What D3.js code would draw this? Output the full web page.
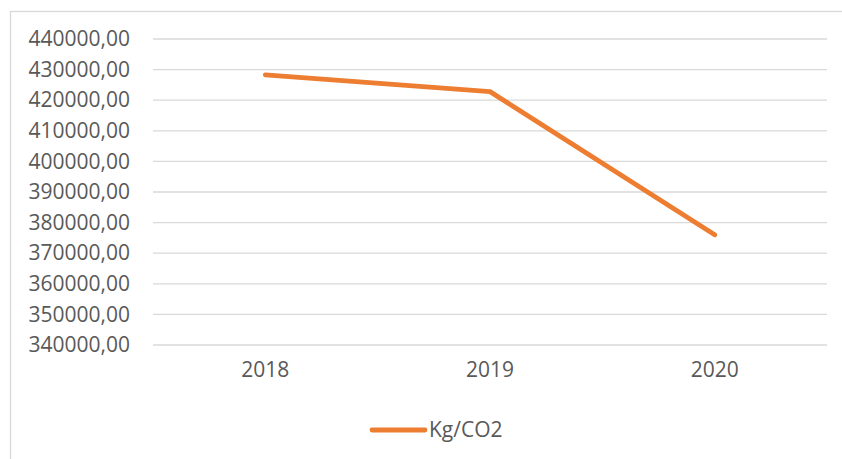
<!DOCTYPE html>
<html lang="en">
<head>
    <meta charset="UTF-8">
    <title>Kg/CO2</title>
    <script src="https://d3js.org/d3.v7.min.js"></script>
    <style>
        body { margin: 0; background: #fff; }
        .tick text { font-family: "Open Sans", sans-serif; font-size: 21px; fill: #595959; }
        .legend-label { font-family: "Open Sans", sans-serif; font-size: 21px; fill: #595959; }
    </style>
</head>
<body>
    <svg width="842" height="459"></svg>
    <script>
        const years = ["2018", "2019", "2020"];
        const kgCO2 = [428300, 422800, 376000];
        const yTicks = [340000, 350000, 360000, 370000, 380000, 390000, 400000, 410000, 420000, 430000, 440000];

        const margin = { top: 39, right: 15, bottom: 114, left: 153 };
        const width = 842 - margin.left - margin.right;
        const height = 459 - margin.top - margin.bottom;

        const root = d3.select("svg");

        // chart frame
        root.append("rect")
            .attr("x", 10.5)
            .attr("y", 11.5)
            .attr("width", 850)
            .attr("height", 470)
            .attr("fill", "none")
            .attr("stroke", "#d9d9d9")
            .attr("stroke-width", 1.3);

        const svg = root.append("g")
            .attr("transform", `translate(${margin.left},${margin.top})`);

        const x = d3.scaleBand()
            .domain(years)
            .range([0, width]);

        const y = d3.scaleLinear()
            .domain([340000, 440000])
            .range([306, 0]);

        const fmt = d => d3.format(".2f")(d).replace(".", ",");

        // gridlines
        svg.append("g")
            .selectAll("line")
            .data(yTicks)
            .enter()
            .append("line")
            .attr("x1", 0)
            .attr("x2", width)
            .attr("y1", d => y(d))
            .attr("y2", d => y(d))
            .attr("stroke", "#d9d9d9")
            .attr("stroke-width", 1.3);

        const yAxis = svg.append("g")
            .call(d3.axisLeft(y).tickValues(yTicks).tickFormat(fmt).tickSize(0).tickPadding(23));
        yAxis.select(".domain").remove();

        const xAxis = svg.append("g")
            .attr("transform", `translate(0,${y(340000)})`)
            .call(d3.axisBottom(x).tickSize(0).tickPadding(17));
        xAxis.select(".domain").remove();

        const line = d3.line()
            .x((d, i) => x(years[i]) + x.bandwidth() / 2)
            .y(d => y(d));

        svg.append("path")
            .datum(kgCO2)
            .attr("d", line)
            .attr("fill", "none")
            .attr("stroke", "#ED7D31")
            .attr("stroke-width", 4.8)
            .attr("stroke-linecap", "round")
            .attr("stroke-linejoin", "round");

        // legend
        const legend = root.append("g").attr("transform", "translate(372,430)");
        legend.append("line")
            .attr("x1", 0).attr("x2", 53)
            .attr("y1", 0).attr("y2", 0)
            .attr("stroke", "#ED7D31")
            .attr("stroke-width", 4.8)
            .attr("stroke-linecap", "round");
        legend.append("text")
            .attr("class", "legend-label")
            .attr("x", 57)
            .attr("y", 7)
            .text("Kg/CO2");
    </script>
</body>
</html>
